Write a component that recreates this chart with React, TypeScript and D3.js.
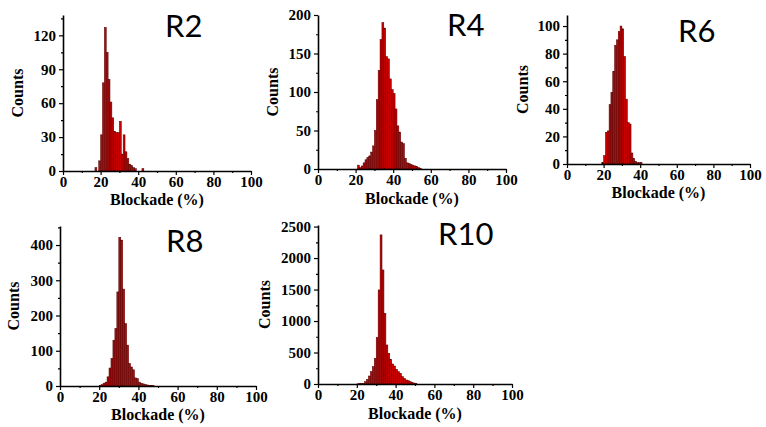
import React, { useRef, useEffect } from 'react';
import * as d3 from 'd3';

// histogram counts, 1% bins, first bin starts at *Start
const r2Start = 17;
const r2Counts = [3, 0, 9, 32, 78, 127, 105, 81, 61, 47, 35, 34, 34, 44, 15, 32, 17, 11, 6, 5, 3, 2, 0, 0, 0, 2];
const r4Start = 21;
const r4Counts = [5, 2, 4, 8, 12, 15, 17, 22, 30, 50, 90, 128, 168, 190, 183, 146, 143, 117, 103, 98, 78, 56, 48, 35, 33, 14, 8, 7, 6, 5, 4, 3, 2, 1];
const r6Start = 19;
const r6Counts = [1, 6, 23, 24, 43, 52, 67, 86, 90, 96, 100, 98, 78, 47, 30, 29, 8, 4, 2, 1, 1, 1];
const r8Start = 20;
const r8Counts = [2, 4, 8, 11, 26, 51, 78, 130, 163, 267, 422, 414, 275, 177, 116, 64, 54, 46, 23, 21, 11, 8, 6, 4, 3, 2, 2, 1];
const r10Start = 20;
const r10Counts = [2, 4, 6, 10, 37, 74, 127, 196, 275, 408, 740, 1494, 2368, 1811, 1123, 620, 487, 392, 318, 286, 233, 196, 170, 117, 90, 64, 53, 37, 26, 16, 6];

const xTicks = [0, 20, 40, 60, 80, 100];
const xMinor = [10, 30, 50, 70, 90];
const r2YTicks = [0, 30, 60, 90, 120];
const r4YTicks = [0, 50, 100, 150, 200];
const r6YTicks = [0, 20, 40, 60, 80, 100];
const r8YTicks = [0, 100, 200, 300, 400];
const r10YTicks = [0, 500, 1000, 1500, 2000, 2500];

const panels = [
  { name: 'R2', start: r2Start, counts: r2Counts, yTicks: r2YTicks, minorStep: 15, yMax: 138,
    x0: 63, x1: 251, top: 15, base: 171, tx: 165, ty: 37, labY: 205, cntX: 18 },
  { name: 'R4', start: r4Start, counts: r4Counts, yTicks: r4YTicks, minorStep: 25, yMax: 200,
    x0: 318, x1: 506, top: 15, base: 169, tx: 447, ty: 36, labY: 204, cntX: 273 },
  { name: 'R6', start: r6Start, counts: r6Counts, yTicks: r6YTicks, minorStep: 10, yMax: 108,
    x0: 567, x1: 750, top: 15, base: 164, tx: 678, ty: 42, labY: 198, cntX: 523 },
  { name: 'R8', start: r8Start, counts: r8Counts, yTicks: r8YTicks, minorStep: 50, yMax: 454,
    x0: 60, x1: 256, top: 226, base: 386, tx: 166, ty: 252, labY: 420, cntX: 14 },
  { name: 'R10', start: r10Start, counts: r10Counts, yTicks: r10YTicks, minorStep: 250, yMax: 2525,
    x0: 318, x1: 512, top: 225, base: 384, tx: 438, ty: 245, labY: 419, cntX: 265 },
];

const serif = '"Liberation Serif", "Times New Roman", serif';

const App = () => {
  const svgRef = useRef(null);

  useEffect(() => {
    const svg = d3.select(svgRef.current);
    svg.selectAll('*').remove();

    panels.forEach(p => {
      const g = svg.append('g');
      const x = d3.scaleLinear().domain([0, 100]).range([p.x0, p.x1]);
      const y = d3.scaleLinear().domain([0, p.yMax]).range([p.base, p.top]);

      // bars
      g.selectAll('rect')
        .data(p.counts.map((c, i) => ({ b: p.start + i, c })).filter(d => d.c > 0))
        .enter().append('rect')
        .attr('x', d => x(d.b))
        .attr('width', d => x(d.b + 1) - x(d.b))
        .attr('y', d => y(d.c))
        .attr('height', d => p.base - y(d.c))
        .attr('fill', '#c80000')
        .attr('stroke', '#4a0000')
        .attr('stroke-width', 0.5);

      // x axis
      const xa = g.append('g').attr('transform', `translate(0,${p.base})`)
        .call(d3.axisBottom(x).tickValues(xTicks).tickSize(4).tickSizeOuter(0).tickPadding(1).tickFormat(d3.format('d')));
      g.append('g').attr('transform', `translate(0,${p.base})`)
        .call(d3.axisBottom(x).tickValues(xMinor).tickSize(2).tickSizeOuter(0).tickFormat(() => ''))
        .select('.domain').remove();

      // y axis
      const minor = [];
      for (let v = p.minorStep; v < p.yMax; v += p.minorStep * 2) minor.push(v);
      const ya = g.append('g').attr('transform', `translate(${p.x0},0)`)
        .call(d3.axisLeft(y).tickValues(p.yTicks).tickSize(4).tickSizeOuter(0).tickPadding(3).tickFormat(d3.format('d')));
      g.append('g').attr('transform', `translate(${p.x0},0)`)
        .call(d3.axisLeft(y).tickValues(minor).tickSize(2).tickSizeOuter(0).tickFormat(() => ''))
        .select('.domain').remove();

      [xa, ya].forEach(a => {
        a.select('.domain').attr('stroke-width', 1.6);
        a.selectAll('text')
          .attr('font-family', serif)
          .attr('font-weight', 'bold')
          .attr('font-size', 15)
          .attr('fill', '#000');
      });
      g.selectAll('.tick line').attr('stroke-width', 1.2);

      // labels
      g.append('text')
        .attr('x', (p.x0 + p.x1) / 2)
        .attr('y', p.labY)
        .attr('text-anchor', 'middle')
        .attr('font-family', serif)
        .attr('font-weight', 'bold')
        .attr('font-size', 16)
        .text('Blockade (%)');

      g.append('text')
        .attr('transform', `translate(${p.cntX + 5},${(p.top + p.base) / 2}) rotate(-90)`)
        .attr('text-anchor', 'middle')
        .attr('font-family', serif)
        .attr('font-weight', 'bold')
        .attr('font-size', 16)
        .text('Counts');

      g.append('text')
        .attr('x', p.tx)
        .attr('y', p.ty)
        .attr('font-family', 'Lato, "Open Sans", sans-serif')
        .attr('font-size', 31)
        .text(p.name);
    });
  }, []);

  return (
    <svg
      ref={svgRef}
      width={766}
      height={427}
      style={{ position: 'absolute', left: 0, top: 0, background: '#fff' }}
    />
  );
};

export default App;
